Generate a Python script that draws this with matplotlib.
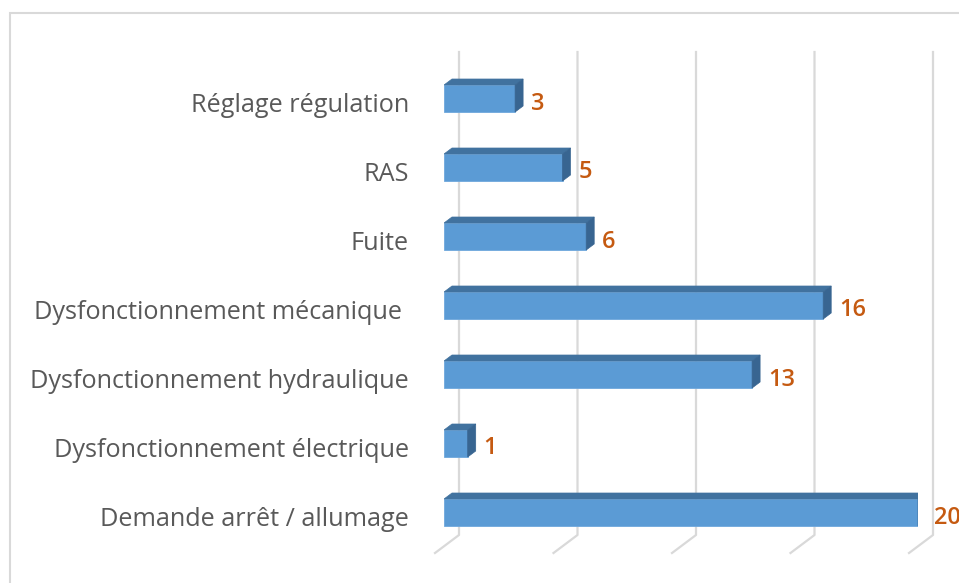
import matplotlib.pyplot as plt
import matplotlib.transforms as mtransforms
from matplotlib.patches import Polygon, Rectangle

categories = [
    "Demande arrêt / allumage",
    "Dysfonctionnement électrique",
    "Dysfonctionnement hydraulique",
    "Dysfonctionnement mécanique ",
    "Fuite",
    "RAS",
    "Réglage régulation",
]
values = [20, 1, 13, 16, 6, 5, 3]
grid_ticks = [0, 5, 10, 15, 20]

FRONT = "#5B9BD5"
TOP = "#41729F"
SIDE = "#386591"
LABEL_COLOR = "#595959"
VALUE_COLOR = "#C55A11"
FONT = ["Open Sans", "DejaVu Sans"]

W, H = 959, 583
fig = plt.figure(figsize=(W / 100, H / 100), dpi=100)

# axes placed so the front face of bars maps x=0 -> px 444, x=20 -> px 918
ymin, ymax = -0.6, 6.75
step = 69.0
y0 = 70.5  # pixel-from-bottom of category 0 centre
ax = fig.add_axes([
    444 / W,
    (y0 + ymin * step) / H,
    474 / W,
    (ymax - ymin) * step / H,
])
ax.set_xlim(0, 20)
ax.set_ylim(ymin, ymax)
ax.axis("off")

kx = 20 / 474  # data units per pixel
ky = 1 / step


def py(p):
    """pixel-from-bottom -> data y"""
    return (p - y0) / step


# gridlines: back wall + slanted floor
for v in grid_ticks:
    ax.plot(
        [v + 15 * kx, v + 15 * kx, v - 9 * kx],
        [py(H - 52), py(H - 535), py(H - 553)],
        color="#D9D9D9", lw=1.6, clip_on=False, zorder=1,
    )

bar_h = 27 * ky
dx, dy = 8 * kx, 6 * ky
ypos = list(range(len(categories)))

ax.barh(ypos, values, height=bar_h, color=FRONT, edgecolor="#6FA8DC",
        linewidth=0.6, zorder=3)

for y, v in zip(ypos, values):
    yt = y + bar_h / 2
    yb = y - bar_h / 2
    top = Polygon([(0, yt), (dx, yt + dy), (v + dx, yt + dy), (v, yt)],
                  closed=True, facecolor=TOP, edgecolor=TOP, lw=0.5, zorder=3)
    side = Polygon([(v, yb), (v, yt), (v + dx, yt + dy), (v + dx, yb + dy)],
                   closed=True, facecolor=SIDE, edgecolor=SIDE, lw=0.5, zorder=3)
    ax.add_patch(top)
    ax.add_patch(side)

    val_tr = mtransforms.offset_copy(ax.transData, fig=fig, x=16, y=-5, units="dots")
    ax.text(v, y, str(v), transform=val_tr, ha="left", va="center",
            fontsize=17, fontweight="semibold", color=VALUE_COLOR,
            family=FONT, clip_on=False, zorder=4)

for y, c in zip(ypos, categories):
    lab_tr = mtransforms.blended_transform_factory(fig.transFigure, ax.transData)
    lab_tr = lab_tr + mtransforms.ScaledTranslation(0, -7 / 100, fig.dpi_scale_trans)
    ax.text(409 / W, y, c, transform=lab_tr, ha="right", va="center",
            fontsize=18.2, color=LABEL_COLOR, family=FONT, clip_on=False)

# chart area border (runs off the right and bottom edges)
fig.patches.append(Rectangle((10 / W, -0.1), 1.2, (H - 13) / H + 0.1,
                             transform=fig.transFigure, fill=False,
                             edgecolor="#D9D9D9", lw=1.5))

fig.savefig("out.png", dpi=100)
